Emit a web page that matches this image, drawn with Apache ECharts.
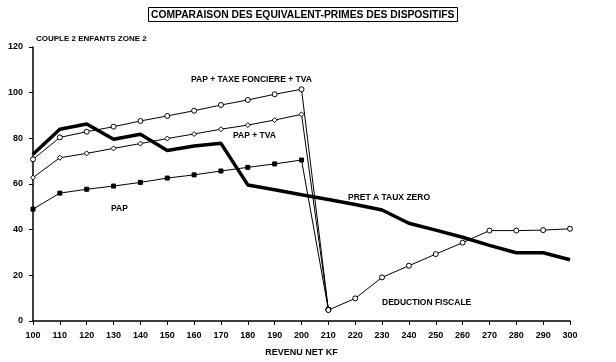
<!DOCTYPE html>
<html><head><meta charset="utf-8">
<script src="https://cdn.jsdelivr.net/npm/echarts@6/dist/echarts.min.js"></script>
<style>html,body{margin:0;padding:0;background:#fff}#c{width:616px;height:362px}</style>
</head><body><div id="c"></div>
<script>
const revenu = [100,110,120,130,140,150,160,170,180,190,200,210,220,230,240,250,260,270,280,290,300];
const papTaxeTva = [70.8,80.4,82.9,85.1,87.6,89.8,92.1,94.6,96.8,99.3,101.5,5];
const papTva = [62.8,71.5,73.4,75.6,77.7,79.9,81.9,84,85.8,88,90.5,5];
const pap = [49,56,57.7,59.1,60.7,62.6,64,65.7,67.3,68.8,70.5,5];
const pretTauxZero = [73,84,86.3,79.6,81.8,74.7,76.6,77.8,59.6,57.5,55.3,53.2,51,48.6,42.8,39.8,36.7,33.1,29.9,29.9,26.8];
const deductionRevenu = [210,220,230,240,250,260,270,280,290,300];
const deductionFiscale = [4.8,9.9,19.1,24.2,29.3,34.3,39.6,39.6,39.8,40.4];
const yTicks = [0,20,40,60,80,100,120];

const pairs = (xs, ys) => ys.map((v,i)=>[xs[i], v]);
const F = '"Liberation Sans", Arial, sans-serif';
const chart = echarts.init(document.getElementById('c'));
const thin = {color:'#000', width:1};
chart.setOption({
  animation:false,
  backgroundColor:'#fff',
  title:{
    text:'COMPARAISON DES EQUIVALENT-PRIMES DES DISPOSITIFS',
    left:148, top:7,
    padding:[3,3,2,3],
    borderColor:'#000', borderWidth:1,
    textStyle:{fontFamily:F, fontSize:10.3, fontWeight:'bold', color:'#000'}
  },
  grid:{left:33, right:46, top:47, bottom:41},
  xAxis:{
    type:'value', min:100, max:300, interval:10,
    name:'REVENU NET KF', nameLocation:'middle', nameGap:27,
    nameTextStyle:{fontFamily:F, fontSize:9, fontWeight:'bold', color:'#000'},
    axisLine:{lineStyle:{color:'#000', width:1.5}},
    axisTick:{show:true, length:4, lineStyle:{color:'#000'}},
    axisLabel:{fontFamily:F, fontSize:9, fontWeight:'bold', color:'#000', margin:10},
    splitLine:{show:false}
  },
  yAxis:{
    type:'value', min:0, max:120, interval:20,
    axisLine:{show:true, lineStyle:{color:'#000', width:1.5}},
    axisTick:{show:true, length:4, lineStyle:{color:'#000'}},
    axisLabel:{fontFamily:F, fontSize:9, fontWeight:'bold', color:'#000', margin:10,
      formatter:v=>yTicks.includes(v)?String(v):''},
    splitLine:{show:false}
  },
  series:[
    {type:'line', name:'PAP + TAXE FONCIERE + TVA', data:pairs(revenu,papTaxeTva),
     symbol:'circle', symbolSize:5, lineStyle:thin,
     itemStyle:{color:'#fff', borderColor:'#000', borderWidth:1}},
    {type:'line', name:'PAP + TVA', data:pairs(revenu,papTva),
     symbol:'diamond', symbolSize:5, lineStyle:thin,
     itemStyle:{color:'#fff', borderColor:'#000', borderWidth:1}},
    {type:'line', name:'PAP', data:pairs(revenu,pap),
     symbol:'rect', symbolSize:4, lineStyle:thin,
     itemStyle:{color:'#000', borderColor:'#000'}},
    {type:'line', name:'PRET A TAUX ZERO', data:pairs(revenu,pretTauxZero),
     symbol:'none', lineStyle:{color:'#000', width:3.5}},
    {type:'line', name:'DEDUCTION FISCALE', data:pairs(deductionRevenu,deductionFiscale),
     symbol:'circle', symbolSize:5, lineStyle:thin,
     itemStyle:{color:'#fff', borderColor:'#000', borderWidth:1}}
  ],
  graphic:[
    {type:'text', left:36, top:35, style:{text:'COUPLE 2 ENFANTS ZONE 2', font:'bold 8px '+F, fill:'#000'}},
    {type:'text', left:191, top:75, style:{text:'PAP + TAXE FONCIERE + TVA', font:'bold 8.5px '+F, fill:'#000'}},
    {type:'text', left:233, top:131, style:{text:'PAP + TVA', font:'bold 8.5px '+F, fill:'#000'}},
    {type:'text', left:111, top:204, style:{text:'PAP', font:'bold 8.5px '+F, fill:'#000'}},
    {type:'text', left:348, top:193, style:{text:'PRET A TAUX ZERO', font:'bold 8.5px '+F, fill:'#000'}},
    {type:'text', left:382, top:298, style:{text:'DEDUCTION FISCALE', font:'bold 8.5px '+F, fill:'#000'}}
  ]
});
</script></body></html>
